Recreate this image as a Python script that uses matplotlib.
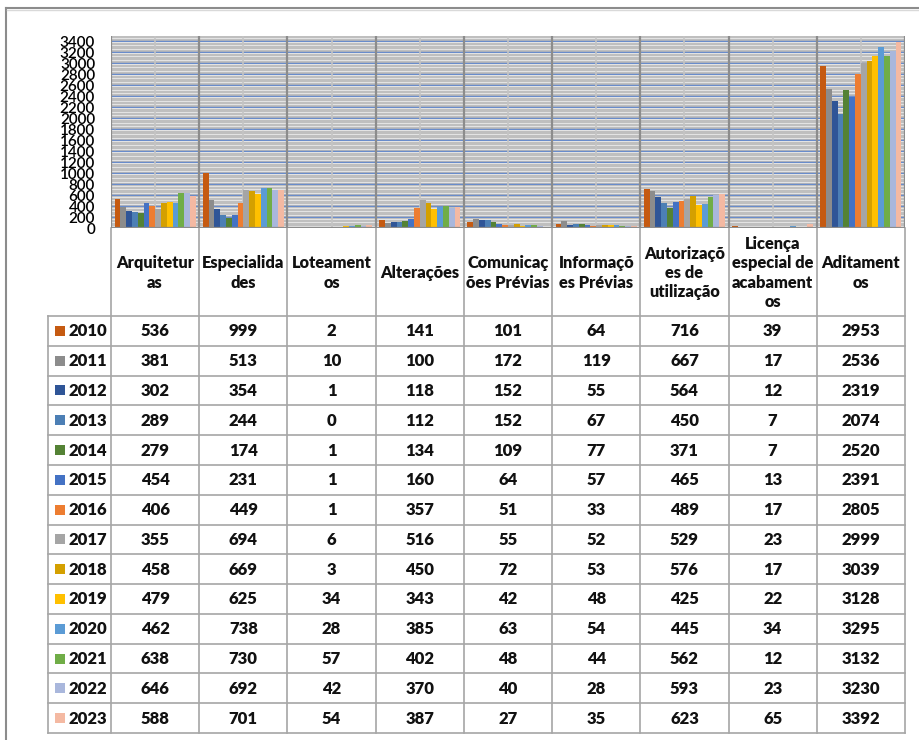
import numpy as np
import matplotlib
matplotlib.use("Agg")
import matplotlib.pyplot as plt
from matplotlib.patches import Rectangle

plt.rcParams['font.family'] = ['Lato', 'DejaVu Sans']

# categories as written in the table header (wrapped like the original)
categories = ["Arquitetur\nas", "Especialida\ndes", "Loteament\nos", "Alterações",
              "Comunicaç\nões Prévias", "Informaçõ\nes Prévias",
              "Autorizaçõ\nes de\nutilização", "Licença\nespecial de\nacabament\nos",
              "Aditament\nos"]
years = ["2010", "2011", "2012", "2013", "2014", "2015", "2016",
         "2017", "2018", "2019", "2020", "2021", "2022", "2023"]

v2010 = [536, 999, 2, 141, 101, 64, 716, 39, 2953]
v2011 = [381, 513, 10, 100, 172, 119, 667, 17, 2536]
v2012 = [302, 354, 1, 118, 152, 55, 564, 12, 2319]
v2013 = [289, 244, 0, 112, 152, 67, 450, 7, 2074]
v2014 = [279, 174, 1, 134, 109, 77, 371, 7, 2520]
v2015 = [454, 231, 1, 160, 64, 57, 465, 13, 2391]
v2016 = [406, 449, 1, 357, 51, 33, 489, 17, 2805]
v2017 = [355, 694, 6, 516, 55, 52, 529, 23, 2999]
v2018 = [458, 669, 3, 450, 72, 53, 576, 17, 3039]
v2019 = [479, 625, 34, 343, 42, 48, 425, 22, 3128]
v2020 = [462, 738, 28, 385, 63, 54, 445, 34, 3295]
v2021 = [638, 730, 57, 402, 48, 44, 562, 12, 3132]
v2022 = [646, 692, 42, 370, 40, 28, 593, 23, 3230]
v2023 = [588, 701, 54, 387, 27, 35, 623, 65, 3392]
series = [v2010, v2011, v2012, v2013, v2014, v2015, v2016,
          v2017, v2018, v2019, v2020, v2021, v2022, v2023]

colors = ['#C55A11', '#8C8C8C', '#2F5597', '#4C7FB5', '#548235', '#4472C4', '#ED7D31',
          '#A5A5A5', '#D4A000', '#FFC000', '#5B9BD5', '#70AD47', '#A9B7DC', '#F4B9A2']

W, H = 920, 740
fig = plt.figure(figsize=(W / 100, H / 100), dpi=100)

# pixel layout
x0, x1 = 111, 905
y_top, y_zero = 36, 228
colw = (x1 - x0) / len(categories)

ax = fig.add_axes([x0 / W, 1 - y_zero / H, (x1 - x0) / W, (y_zero - y_top) / H])
ax.set_facecolor('#e3e3e3')
ax.set_xlim(-0.5, len(categories) - 0.5)
ax.set_ylim(0, 3500)

ax.set_yticks(np.arange(0, 3401, 200))
ax.set_yticks(np.arange(0, 3501, 25), minor=True)
ax.tick_params(axis='y', which='both', length=0, labelsize=11, pad=11.5)
ax.tick_params(axis='x', which='both', length=0, labelbottom=False)
for lab in ax.get_yticklabels():
    lab.set_fontweight('semibold')
ax.grid(axis='y', which='minor', color='#b8b8b8', lw=0.6)
ax.grid(axis='y', which='major', color='#4472C4', lw=1.1)
ax.set_axisbelow(True)

# vertical category lines
for k in range(len(categories) + 1):
    ax.axvline(k - 0.5, color='#8c8c8c', lw=1.6, zorder=0.9)
for k in range(len(categories)):
    ax.axvline(k, color='#c4c4c4', lw=1.2, zorder=0.8)

for s in ax.spines.values():
    s.set_visible(False)
ax.axhline(0, color='#8c8c8c', lw=1.6, zorder=3)

xs = np.arange(len(categories))
bw = 0.92 / len(years)
for i, (yr, vals) in enumerate(zip(years, series)):
    ax.bar(xs + (i - (len(years) - 1) / 2) * bw, vals, width=bw,
           color=colors[i], zorder=2, linewidth=0)

# data table drawn in pixel coordinates
tab = fig.add_axes([0, 0, 1, 1], zorder=-1)
tab.set_xlim(0, W)
tab.set_ylim(H, 0)
tab.axis('off')

head_bot = 316
row_h = (733 - head_bot) / len(years)
lab_x = 48
line_c = '#a6a6a6'
txt_c = '#111111'

for j in range(len(categories) + 1):
    tab.plot([x0 + j * colw] * 2, [y_zero, head_bot + row_h * len(years)],
             color=line_c, lw=1.2)
tab.plot([lab_x] * 2, [head_bot, head_bot + row_h * len(years)], color=line_c, lw=1.2)
for r in range(len(years) + 1):
    tab.plot([lab_x, x1], [head_bot + r * row_h] * 2, color=line_c, lw=1.2)

for j, cat in enumerate(categories):
    tab.text(x0 + (j + 0.5) * colw, (y_zero + head_bot) / 2 + 1, cat,
             ha='center', va='center', fontsize=11.8, fontweight='heavy',
             linespacing=1.25, color=txt_c)

for r, (yr, vals) in enumerate(zip(years, series)):
    yc = head_bot + (r + 0.5) * row_h
    tab.add_patch(Rectangle((55, yc - 5), 10, 10, color=colors[r], lw=0))
    tab.text(69, yc + 0.5, yr, ha='left', va='center', fontsize=12,
             fontweight='heavy', color=txt_c)
    for j, v in enumerate(vals):
        tab.text(x0 + (j + 0.5) * colw, yc + 0.5, str(v), ha='center', va='center',
                 fontsize=12, fontweight='heavy', color=txt_c)

# outer chart border
tab.plot([6, W], [8, 8], color='#8c8c8c', lw=1.5)
tab.plot([6, 6], [8, H], color='#8c8c8c', lw=1.5)
tab.plot([7.5, W], [10, 10], color='#d9d9d9', lw=1)

fig.savefig('out.png', dpi=100)
